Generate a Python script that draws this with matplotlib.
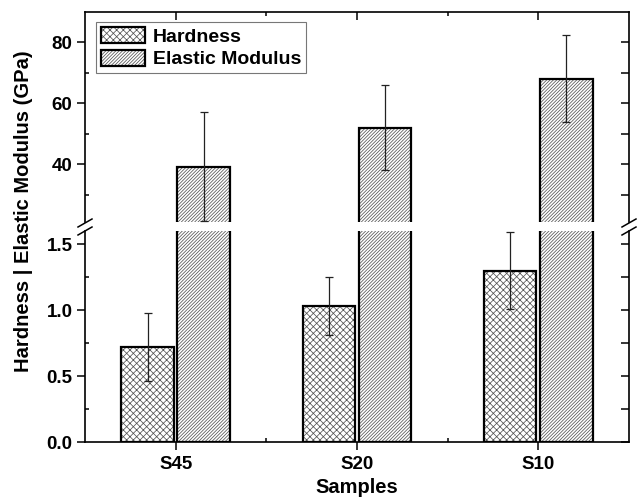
import numpy as np
import matplotlib.pyplot as plt
from matplotlib.lines import Line2D
from matplotlib.patches import Patch
from matplotlib.legend_handler import HandlerTuple
from matplotlib.ticker import MultipleLocator, FixedLocator

plt.rcParams['font.family'] = ['Liberation Sans', 'DejaVu Sans']
plt.rcParams['font.weight'] = 'bold'
plt.rcParams['hatch.linewidth'] = 0.55

samples = ['S45', 'S20', 'S10']
hardness = [0.72, 1.03, 1.30]
hardness_err = [0.26, 0.22, 0.29]
modulus = [39.1, 52.0, 68.1]
modulus_err = [17.9, 13.9, 14.3]

x = np.arange(len(samples))
w = 0.29
off = 0.155
hatch_col = '#555555'
h_hatch = 'xxxxx'
m_hatch = '//////////'

fig = plt.figure(figsize=(6.43, 4.98), dpi=100)
ax_top = fig.add_axes([0.1322, 0.554, 0.8458, 0.422])
ax_bot = fig.add_axes([0.1322, 0.1124, 0.8458, 0.4236])

for ax in (ax_top, ax_bot):
    # hatch drawn in grey, outline drawn on top in black
    ax.bar(x - off, hardness, w, color='white', edgecolor=hatch_col, hatch=h_hatch, linewidth=0)
    ax.bar(x - off, hardness, w, color='none', edgecolor='black', linewidth=1.6)
    ax.bar(x + off, modulus, w, color='white', edgecolor=hatch_col, hatch=m_hatch, linewidth=0)
    ax.bar(x + off, modulus, w, color='none', edgecolor='black', linewidth=1.6)
    ax.set_xlim(-0.5, 2.5)
    for s in ax.spines.values():
        s.set_linewidth(1.2)

ax_bot.errorbar(x - off, hardness, yerr=hardness_err, fmt='none', ecolor='#222222',
                elinewidth=0.9, capsize=3.2, capthick=0.9)
ax_top.errorbar(x + off, modulus, yerr=modulus_err, fmt='none', ecolor='#222222',
                elinewidth=0.9, capsize=3.2, capthick=0.9)

ax_top.set_ylim(21, 90)
ax_bot.set_ylim(0, 1.6)
ax_top.spines['bottom'].set_visible(False)
ax_bot.spines['top'].set_visible(False)

ax_top.yaxis.set_major_locator(FixedLocator([40, 60, 80]))
ax_top.yaxis.set_minor_locator(FixedLocator([30, 50, 70]))
ax_bot.yaxis.set_major_locator(MultipleLocator(0.5))
ax_bot.yaxis.set_minor_locator(MultipleLocator(0.25))
ax_top.yaxis.set_major_formatter(plt.FuncFormatter(lambda v, p: f'{v:.0f}'))
ax_bot.yaxis.set_major_formatter(plt.FuncFormatter(lambda v, p: f'{v:.1f}'))

for ax in (ax_top, ax_bot):
    ax.set_xticks(x)
    ax.xaxis.set_minor_locator(FixedLocator([0.5, 1.5]))
    ax.tick_params(axis='y', which='major', direction='out', length=6, width=1.1,
                   right=False, labelsize=13.5, pad=3)
    ax.tick_params(axis='y', which='minor', direction='in', length=3, width=1.1, right=False)
    # right side ticks, all inward
    axr = ax.twinx()
    axr.set_ylim(ax.get_ylim())
    axr.yaxis.set_major_locator(ax.yaxis.get_major_locator())
    axr.yaxis.set_minor_locator(ax.yaxis.get_minor_locator())
    axr.tick_params(axis='y', which='both', direction='in', length=6, width=1.1, labelright=False)
    for s in axr.spines.values():
        s.set_visible(False)

ax_top.tick_params(axis='x', which='major', direction='in', length=6, width=1.1,
                   bottom=False, top=True, labelbottom=False)
ax_top.tick_params(axis='x', which='minor', direction='in', length=3, width=1.1,
                   bottom=False, top=True)
ax_bot.set_xticklabels(samples)
ax_bot.tick_params(axis='x', which='major', direction='out', length=6, width=1.1,
                   top=False, labelsize=13.5, pad=4)
ax_bot.tick_params(axis='x', which='minor', direction='in', length=3, width=1.1, top=False)

ax_bot.set_xlabel('Samples', fontsize=14.5, fontweight='bold', labelpad=4)
fig.text(0.037, 0.575, 'Hardness | Elastic Modulus (GPa)', rotation=90,
         ha='center', va='center', fontsize=14.5, fontweight='bold')

# axis break marks
W, H = 643, 498
for px in (85, 629):
    for py in (223, 231):
        fig.add_artist(Line2D([(px - 7) / W, (px + 7) / W], [1 - (py + 4) / H, 1 - (py - 4) / H],
                              color='black', linewidth=1.1))

h1 = (Patch(facecolor='white', edgecolor=hatch_col, hatch=h_hatch, linewidth=0),
      Patch(facecolor='none', edgecolor='black', linewidth=1.6))
h2 = (Patch(facecolor='white', edgecolor=hatch_col, hatch=m_hatch, linewidth=0),
      Patch(facecolor='none', edgecolor='black', linewidth=1.6))
leg = ax_top.legend([h1, h2], ['Hardness', 'Elastic Modulus'],
                    handler_map={tuple: HandlerTuple(ndivide=1)},
                    loc='upper left', bbox_to_anchor=(0.02, 0.952), borderaxespad=0,
                    fancybox=False, edgecolor='#777777', framealpha=1,
                    prop={'size': 14, 'weight': 'bold'},
                    handlelength=2.3, handleheight=0.9, borderpad=0.25,
                    labelspacing=0.2, handletextpad=0.4)
leg.get_frame().set_linewidth(0.8)

fig.savefig('out.png', dpi=100)
